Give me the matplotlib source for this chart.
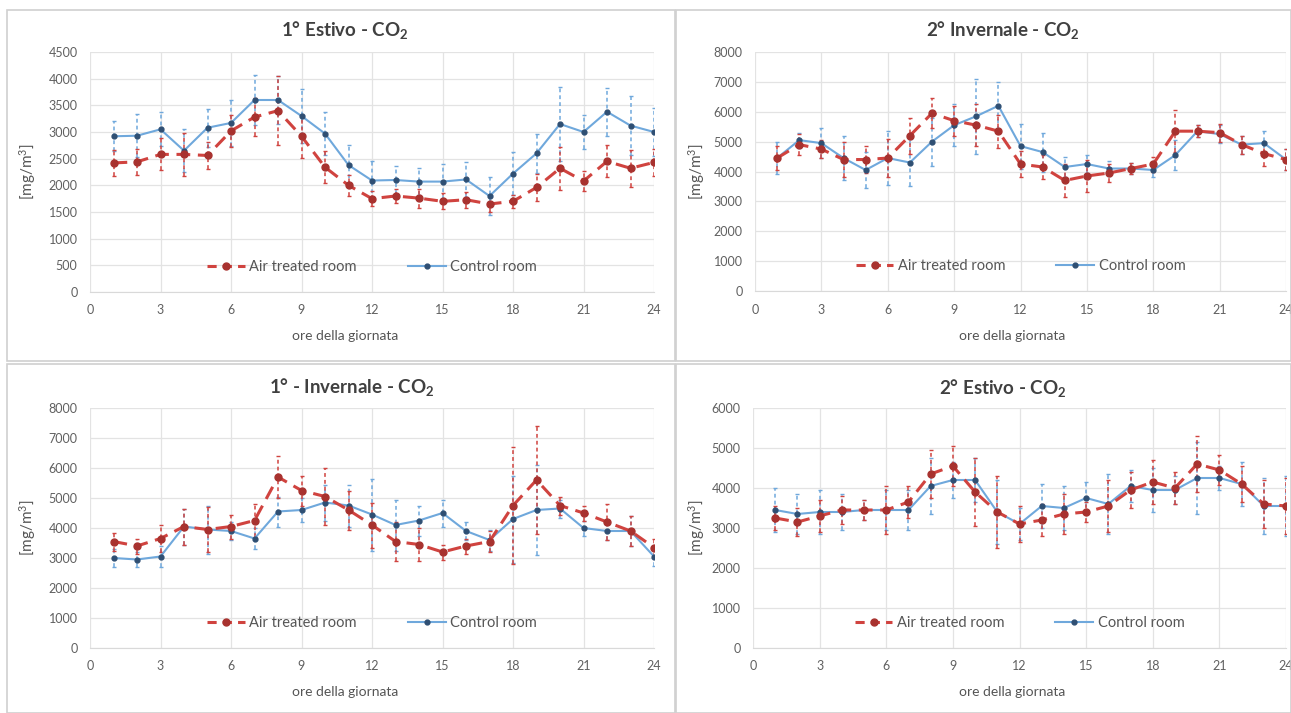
import numpy as np
import matplotlib
matplotlib.use("Agg")
import matplotlib.pyplot as plt
from matplotlib.patches import Rectangle
from matplotlib.lines import Line2D

plt.rcParams['font.family'] = ['Lato', 'DejaVu Sans']
plt.rcParams['mathtext.default'] = 'regular'

hours = list(range(1, 25))

# 1° Estivo
est1_air = [2420, 2440, 2580, 2580, 2560, 3020, 3280, 3400, 2920, 2340, 2000, 1750,
            1800, 1760, 1700, 1730, 1650, 1700, 1960, 2320, 2080, 2450, 2320, 2430]
est1_ctrl = [2920, 2930, 3050, 2650, 3080, 3170, 3600, 3600, 3300, 2970, 2380, 2090,
             2100, 2070, 2070, 2110, 1800, 2220, 2600, 3150, 3000, 3380, 3120, 3000]
est1_air_sd = [250, 250, 300, 400, 250, 300, 350, 650, 400, 300, 200, 140,
               130, 180, 150, 150, 150, 120, 250, 400, 180, 300, 350, 250]
est1_ctrl_sd = [280, 400, 320, 400, 360, 430, 470, 450, 500, 400, 370, 360,
                270, 250, 330, 330, 360, 400, 370, 690, 320, 450, 560, 450]

# 2° Invernale
inv2_air = [4450, 4900, 4750, 4400, 4400, 4450, 5200, 5950, 5700, 5550, 5350, 4250,
            4150, 3700, 3850, 3950, 4100, 4250, 5350, 5350, 5300, 4900, 4600, 4400]
inv2_ctrl = [4450, 5050, 4950, 4450, 4050, 4450, 4300, 5000, 5550, 5850, 6200, 4850,
             4650, 4150, 4250, 4100, 4100, 4050, 4550, 5350, 5250, 4900, 4950, 4400]
inv2_air_sd = [400, 350, 300, 600, 450, 650, 600, 500, 500, 700, 550, 450,
               400, 550, 550, 300, 200, 250, 700, 200, 300, 300, 400, 350]
inv2_ctrl_sd = [550, 250, 500, 750, 600, 900, 800, 800, 700, 1250, 800, 750,
                650, 350, 300, 250, 200, 250, 500, 200, 300, 300, 400, 350]

# 1° Invernale
inv1_air = [3550, 3400, 3650, 4050, 3950, 4050, 4250, 5700, 5250, 5050, 4600, 4100,
            3550, 3450, 3200, 3400, 3550, 4750, 5600, 4750, 4500, 4200, 3900, 3350]
inv1_ctrl = [3000, 2950, 3050, 4050, 3950, 3900, 3650, 4550, 4600, 4850, 4750, 4450,
             4100, 4250, 4500, 3900, 3600, 4300, 4600, 4650, 4000, 3900, 3900, 3050]
inv1_air_sd = [300, 250, 450, 600, 750, 400, 550, 700, 500, 950, 650, 750,
               650, 550, 250, 250, 350, 1950, 1800, 300, 250, 600, 500, 300]
inv1_ctrl_sd = [300, 250, 350, 600, 800, 300, 350, 500, 400, 600, 700, 1200,
                850, 500, 450, 300, 350, 1450, 1500, 300, 250, 300, 500, 300]

# 2° Estivo
est2_air = [3250, 3150, 3300, 3450, 3450, 3450, 3650, 4350, 4550, 3900, 3400, 3100,
            3200, 3350, 3400, 3550, 3950, 4150, 4000, 4600, 4450, 4100, 3600, 3550]
est2_ctrl = [3450, 3350, 3400, 3400, 3450, 3450, 3450, 4050, 4200, 4200, 3400, 3100,
             3550, 3500, 3750, 3600, 4050, 3950, 3950, 4250, 4250, 4100, 3550, 3550]
est2_air_sd = [300, 350, 400, 350, 250, 600, 400, 600, 500, 850, 900, 450,
               400, 500, 250, 650, 450, 550, 400, 700, 380, 450, 600, 700]
est2_ctrl_sd = [550, 500, 550, 450, 250, 500, 500, 700, 450, 550, 800, 400,
                550, 550, 400, 750, 400, 550, 350, 900, 300, 550, 700, 750]

titles = ["1° Estivo - CO$_2$", "2° Invernale - CO$_2$",
          "1° - Invernale - CO$_2$", "2° Estivo - CO$_2$"]
ymaxes = [4500, 8000, 8000, 6000]
ysteps = [500, 1000, 1000, 1000]

W, H = 1291, 713
fig = plt.figure(figsize=(W / 100, H / 100), dpi=100)

def px(x0, y0, x1, y1):
    # pixel box -> figure fraction
    return [x0 / W, 1 - y1 / H, (x1 - x0) / W, (y1 - y0) / H]

boxes = [px(90, 52, 654, 292), px(755, 52, 1286, 291),
         px(90, 408, 654, 648), px(753, 408, 1286, 648)]
title_pos = [(345, 30), (1003, 30), (352, 387), (1003, 388)]
xlab_pos = [(345, 336), (1012, 336), (345, 692), (1012, 692)]
ylab_x = [28, 697, 28, 697]
panel_rects = [(7, 10, 675, 361), (676, 10, 1291, 361),
               (7, 364, 675, 713), (676, 364, 1291, 713)]

air_line = '#d0433f'
air_mark = '#a8322f'
ctrl_line = '#6fa8dc'
ctrl_mark = '#2f4f73'

series = [(est1_air, est1_air_sd, est1_ctrl, est1_ctrl_sd),
          (inv2_air, inv2_air_sd, inv2_ctrl, inv2_ctrl_sd),
          (inv1_air, inv1_air_sd, inv1_ctrl, inv1_ctrl_sd),
          (est2_air, est2_air_sd, est2_ctrl, est2_ctrl_sd)]

for i in range(4):
    x0, y0, x1, y1 = panel_rects[i]
    fig.add_artist(Rectangle((x0 / W, 1 - y1 / H), (x1 - x0) / W, (y1 - y0) / H,
                             transform=fig.transFigure, fill=False,
                             edgecolor='#d0d0d0', linewidth=1.2))

    air, air_sd, ctrl, ctrl_sd = series[i]
    ax = fig.add_axes(boxes[i])

    ax.errorbar(hours, ctrl, yerr=ctrl_sd, fmt='none', ecolor=ctrl_line,
                elinewidth=1.1, capsize=1.5, zorder=2)
    ax.errorbar(hours, air, yerr=air_sd, fmt='none', ecolor=air_line,
                elinewidth=1.1, capsize=1.5, zorder=2)
    for coll in ax.collections:
        coll.set_linestyle((0, (2.5, 2)))

    ax.plot(hours, air, color=air_line, linestyle=(0, (4.5, 2.5)), linewidth=2.2,
            marker='o', markersize=5, markerfacecolor=air_mark,
            markeredgecolor=air_mark, zorder=4)
    ax.plot(hours, ctrl, color=ctrl_line, linestyle='-', linewidth=1.5,
            marker='o', markersize=3.5, markerfacecolor=ctrl_mark,
            markeredgecolor=ctrl_mark, zorder=3)

    ax.set_xlim(0, 24)
    ax.set_ylim(0, ymaxes[i])
    ax.set_xticks(range(0, 25, 3))
    ax.set_yticks(np.arange(0, ymaxes[i] + 1, ysteps[i]))
    ax.grid(True, color='#e3e3e3', linewidth=0.9)
    ax.set_axisbelow(True)
    for s in ['top', 'right', 'left']:
        ax.spines[s].set_visible(False)
    ax.spines['bottom'].set_color('#d9d9d9')
    ax.tick_params(length=0, labelsize=9, colors='#606060', pad=9)

    handles = [Line2D([], [], color=air_line, linestyle=(0, (3, 2)), linewidth=2.2,
                      marker='o', markersize=5, markerfacecolor=air_mark,
                      markeredgecolor=air_mark),
               Line2D([], [], color=ctrl_line, linewidth=1.5, marker='o',
                      markersize=3.5, markerfacecolor=ctrl_mark,
                      markeredgecolor=ctrl_mark)]
    ax.legend(handles, ["Air treated room", "Control room"], loc='center',
              bbox_to_anchor=(0.5, 0.105), ncol=2, frameon=False,
              fontsize=10.5, labelcolor='#555555', handlelength=2.6,
              handletextpad=0.3, columnspacing=3.5)

    tx, ty = title_pos[i]
    fig.text(tx / W, 1 - ty / H, titles[i], ha='center', va='center',
             fontsize=13.5, fontweight='bold', color='#404040')
    lx, ly = xlab_pos[i]
    fig.text(lx / W, 1 - ly / H, "ore della giornata", ha='center', va='center',
             fontsize=10, color='#555555')
    b = boxes[i]
    fig.text(ylab_x[i] / W, b[1] + b[3] / 2, "[mg/m$^3$]", ha='center',
             va='center', rotation=90, fontsize=11, color='#555555')

fig.savefig("out.png", dpi=100)
